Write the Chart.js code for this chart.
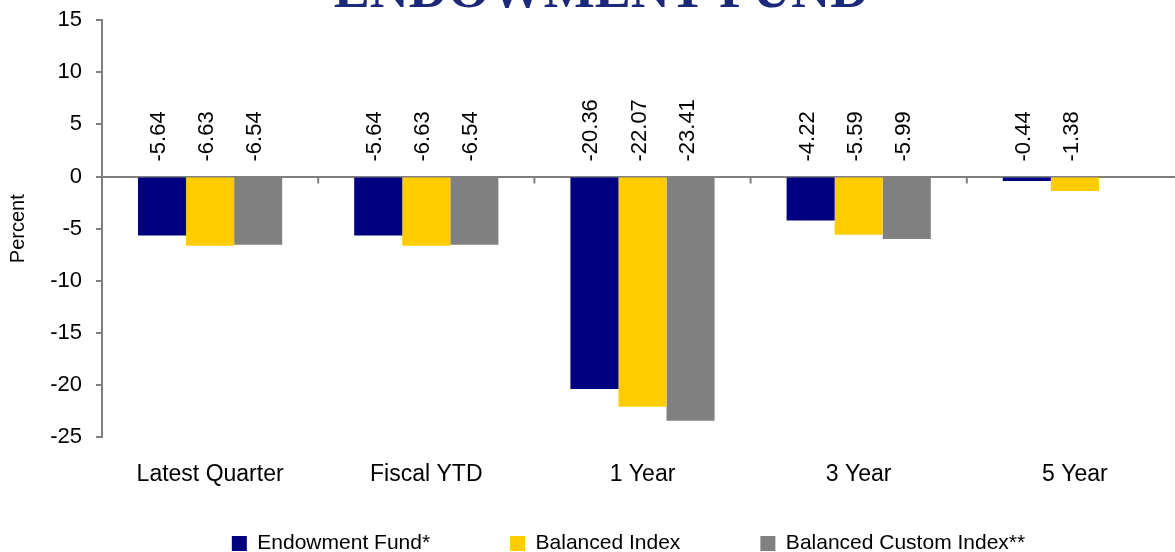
<!DOCTYPE html>
<html>
<head>
<meta charset="utf-8">
<script src="https://cdn.jsdelivr.net/npm/chart.js@4/dist/chart.umd.min.js"></script>
<style>
    html, body { margin: 0; padding: 0; background: #fff; overflow: hidden; width: 1175px; height: 552px; }
    #wrap { position: absolute; left: 0; top: -34px; }
</style>
</head>
<body>
<div id="wrap"><canvas id="returnsChart" width="1183" height="656"></canvas></div>
<script>
const categories = ['Latest Quarter', 'Fiscal YTD', '1 Year', '3 Year', '5 Year'];
const seriesNames = ['Endowment Fund*', 'Balanced Index', 'Balanced Custom Index**'];
const endowmentFund = [-5.64, -5.64, -20.36, -4.22, -0.44];
const balancedIndex = [-6.63, -6.63, -22.07, -5.59, -1.38];
const balancedCustomIndex = [-6.54, -6.54, -23.41, -5.99, null];
const yTicks = [15, 10, 5, 0, -5, -10, -15, -20, -25];
const seriesColors = ['#000080', '#ffcc00', '#808080'];

const axisGray = '#808080';
const sans = "'Liberation Sans', Arial, sans-serif";

// 値ラベル（縦書き）をゼロ線の上に描く
const valueLabels = {
    id: 'valueLabels',
    afterDatasetsDraw(chart) {
        const ctx = chart.ctx;
        const y0 = chart.scales.y.getPixelForValue(0);
        ctx.save();
        ctx.fillStyle = '#000';
        ctx.font = '22px ' + sans;
        ctx.textAlign = 'left';
        ctx.textBaseline = 'middle';
        chart.data.datasets.forEach((ds, i) => {
            chart.getDatasetMeta(i).data.forEach((bar, j) => {
                const v = ds.data[j];
                if (v === null || v === undefined) return;
                ctx.save();
                ctx.translate(bar.x - 3, y0 - 15);
                ctx.rotate(-Math.PI / 2);
                ctx.fillText(v.toFixed(2), 0, 0);
                ctx.restore();
            });
        });
        ctx.restore();
    }
};

// ゼロ線上のカテゴリ区切りの目盛り
const zeroTicks = {
    id: 'zeroTicks',
    afterDatasetsDraw(chart) {
        const ctx = chart.ctx;
        const x = chart.scales.x;
        const y0 = chart.scales.y.getPixelForValue(0);
        ctx.save();
        ctx.strokeStyle = axisGray;
        ctx.lineWidth = 2;
        for (let i = 0; i <= categories.length; i++) {
            let px;
            if (i === 0) px = x.left;
            else if (i === categories.length) px = x.right;
            else px = (x.getPixelForValue(i - 1) + x.getPixelForValue(i)) / 2;
            ctx.beginPath();
            ctx.moveTo(px, y0);
            ctx.lineTo(px, y0 + 7);
            ctx.stroke();
        }
        ctx.restore();
    }
};

// 凡例とタイトルの位置を微調整
const blockShift = {
    id: 'blockShift',
    afterLayout(chart) {
        chart.legend.left += 37;
        chart.legend.right += 37;
        chart.legend.top -= 58;
        chart.legend.bottom -= 58;
        chart.titleBlock.left += 10;
        chart.titleBlock.right += 10;
    }
};

new Chart(document.getElementById('returnsChart').getContext('2d'), {
    type: 'bar',
    data: {
        labels: categories,
        datasets: [endowmentFund, balancedIndex, balancedCustomIndex].map((d, i) => ({
            label: seriesNames[i],
            data: d,
            backgroundColor: seriesColors[i],
            borderWidth: 0,
            categoryPercentage: 0.667,
            barPercentage: 1.0
        }))
    },
    options: {
        responsive: false,
        animation: false,
        devicePixelRatio: 1,
        layout: { padding: 0 },
        plugins: {
            title: {
                display: true,
                text: 'ENDOWMENT FUND',
                color: '#1c2878',
                font: { family: "'Liberation Serif', 'Times New Roman', serif", size: 54, weight: 'bold', lineHeight: 1 },
                padding: { top: 0, bottom: 0 }
            },
            legend: {
                position: 'bottom',
                labels: {
                    boxWidth: 15,
                    boxHeight: 15,
                    padding: 80,
                    color: '#000',
                    font: { family: sans, size: 21 }
                }
            },
            tooltip: { enabled: false }
        },
        scales: {
            x: {
                grid: { display: false, drawTicks: false },
                border: { display: false },
                ticks: {
                    color: '#000',
                    font: { family: sans, size: 23 },
                    padding: 23,
                    maxRotation: 0,
                    autoSkip: false
                }
            },
            y: {
                min: -25,
                max: 15,
                afterBuildTicks(scale) { scale.ticks = yTicks.map(v => ({ value: v })); },
                grid: {
                    color: c => (c.tick && c.tick.value === 0 ? axisGray : 'rgba(0,0,0,0)'),
                    lineWidth: 2,
                    tickColor: axisGray,
                    tickLength: 6
                },
                border: { color: axisGray, width: 2 },
                ticks: {
                    color: '#000',
                    font: { family: sans, size: 22 },
                    padding: 14
                },
                title: {
                    display: true,
                    text: 'Percent',
                    color: '#000',
                    font: { family: sans, size: 20 },
                    padding: { top: 6, bottom: 0 }
                },
                afterFit(scale) { scale.width = 102; }
            }
        }
    },
    plugins: [valueLabels, zeroTicks, blockShift]
});
</script>
</body>
</html>
